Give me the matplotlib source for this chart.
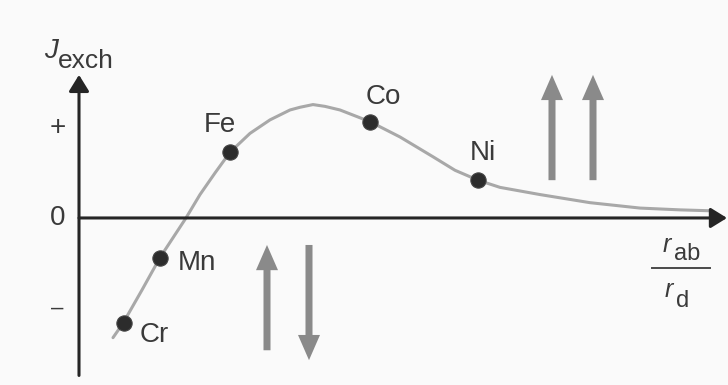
import matplotlib
matplotlib.use("Agg")
import matplotlib.pyplot as plt

plt.rcParams["font.family"] = ["Liberation Sans", "DejaVu Sans"]

# Bethe-Slater curve: exchange integral vs. interatomic distance ratio
ratio_curve = [0.34, 0.44, 0.63, 0.81, 0.94, 1.07, 1.21, 1.36, 1.51, 1.71, 1.91,
               2.11, 2.21, 2.34, 2.46, 2.61, 2.91, 3.21, 3.54, 3.76, 3.99, 4.21,
               4.61, 5.11, 5.61, 6.01, 6.31]
J_curve = [-1.33, -1.17, -0.80, -0.44, -0.22, 0.00, 0.26, 0.50, 0.73, 0.94, 1.09,
           1.20, 1.23, 1.26, 1.24, 1.20, 1.07, 0.90, 0.68, 0.53, 0.42, 0.34,
           0.26, 0.17, 0.11, 0.09, 0.08]

elements = ["Cr", "Mn", "Fe", "Co", "Ni"]
element_ratio = [0.45, 0.81, 1.51, 2.91, 3.99]
element_J = [-1.17, -0.44, 0.73, 1.07, 0.42]

tick_values = [1, 0, -1]
tick_labels = ["+", "0", "–"]

TEXT = "#3a3a3a"
AXIS = "#252525"
CURVE = "#a8a8a8"
SPIN = "#8a8a8a"

fig = plt.figure(figsize=(7.28, 3.85), dpi=100, facecolor="#fafafa")
ax = fig.add_axes([0, 0, 1, 1])
ax.set_facecolor("#fafafa")
ax.set_xlim(-0.79, 6.49)
ax.set_ylim(-1.856, 2.422)
ax.axis("off")

# coordinate axes with arrowheads
head = dict(arrowstyle="-|>,head_length=0.55,head_width=0.34", color=AXIS,
            lw=2.2, mutation_scale=18, shrinkA=0, shrinkB=0)
ax.annotate("", xy=(6.48, 0), xytext=(0, 0), arrowprops=head)
ax.annotate("", xy=(0, 1.59), xytext=(0, -1.75), arrowprops=head)

# tick labels on the J axis
tick_sizes = [20, 20, 16]
for v, lab, fs in zip(tick_values, tick_labels, tick_sizes):
    ax.annotate(lab, xy=(0, v), xytext=(-15.5, 0), textcoords="offset points",
                ha="center", va="center", fontsize=fs, color=TEXT)

# curve and element markers
ax.plot(ratio_curve, J_curve, color=CURVE, lw=2.2, solid_capstyle="round",
        solid_joinstyle="round", zorder=2)
ax.plot(element_ratio, element_J, "o", color="#2c2c2c", markersize=11,
        markeredgecolor="#444444", markeredgewidth=0.8, zorder=3)

label_offsets = {"Cr": ((11.5, -8.6), "left"), "Mn": ((13, -3.6), "left"),
                 "Fe": ((-7.2, 19.4), "center"), "Co": ((9.4, 18), "center"),
                 "Ni": ((3.6, 19.4), "center")}
for name, xr, yj in zip(elements, element_ratio, element_J):
    off, ha = label_offsets[name]
    ax.annotate(name, xy=(xr, yj), xytext=off, textcoords="offset points",
                ha=ha, va="center", fontsize=20, color=TEXT)

# spin arrows: parallel (ferromagnetic) and antiparallel (antiferromagnetic)
spin_kw = dict(width=0.07, head_width=0.22, head_length=0.28,
               length_includes_head=True, color=SPIN, lw=0, zorder=1)
for xs in (4.73, 5.14):
    ax.arrow(xs, 0.42, 0, 1.17, **spin_kw)
ax.arrow(1.88, -1.47, 0, 1.17, **spin_kw)
ax.arrow(2.30, -0.30, 0, -1.28, **spin_kw)

# axis titles
ax.text(-0.35, 1.778, "J", style="italic", fontsize=20, color=TEXT, va="baseline")
ax.text(-0.215, 1.667, "exch", fontsize=19, color=TEXT, va="baseline")

ax.text(5.84, -0.378, "r", style="italic", fontsize=18, color=TEXT, va="baseline")
ax.text(5.95, -0.467, "ab", fontsize=17, color=TEXT, va="baseline")
ax.plot([5.73, 6.31], [-0.556, -0.556], color="#4a4a4a", lw=1.4)
ax.text(5.86, -0.877, "r", style="italic", fontsize=18, color=TEXT, va="baseline")
ax.text(5.97, -0.988, "d", fontsize=17, color=TEXT, va="baseline")

fig.savefig("out.png", dpi=100, facecolor=fig.get_facecolor())
